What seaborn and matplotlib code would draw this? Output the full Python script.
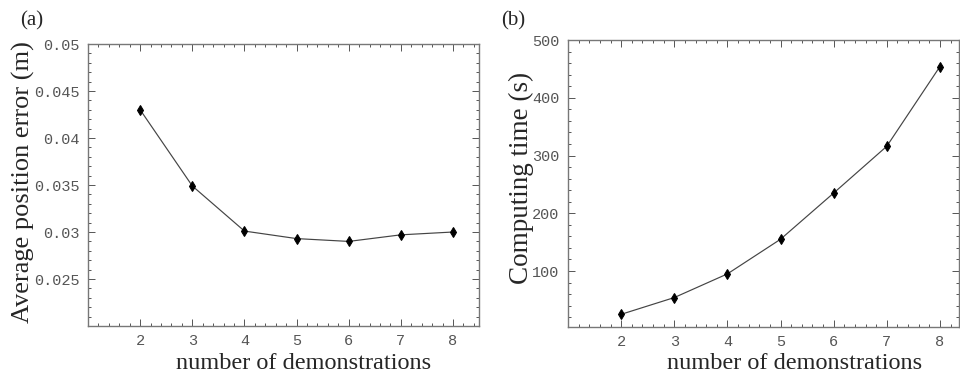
import matplotlib
matplotlib.use("Agg")
import matplotlib.pyplot as plt
import seaborn as sns
import pandas as pd
from matplotlib.ticker import MultipleLocator, FixedLocator

sns.set_style("ticks")
plt.rcParams['font.family'] = ['Liberation Serif', 'DejaVu Serif']

demos = [2, 3, 4, 5, 6, 7, 8]
pos_error = [0.0430, 0.0349, 0.0301, 0.0293, 0.0290, 0.0297, 0.0300]
comp_time = [25, 54, 95, 155, 235, 316, 454]

err_ticks = [0.025, 0.03, 0.035, 0.04, 0.045, 0.05]
err_labels = ["0.025", "0.03", "0.035", "0.04", "0.045", "0.05"]
time_ticks = [100, 200, 300, 400, 500]
time_labels = ["100", "200", "300", "400", "500"]
x_ticks = demos
x_labels = [str(d) for d in demos]

df_a = pd.DataFrame({"n": demos, "v": pos_error})
df_b = pd.DataFrame({"n": demos, "v": comp_time})

fig = plt.figure(figsize=(9.6, 3.84), dpi=100)
ax1 = fig.add_axes([0.0917, 0.151, 0.4073, 0.7344])
ax2 = fig.add_axes([0.5917, 0.1484, 0.4073, 0.7474])

tick_font = dict(family='Liberation Mono', size=11, color='#555555')

def style(ax, ylim, yticks, ylabels, ylabel, ysize, ylab_xy, xlab_xy):
    ax.set_xlim(1, 8.5)
    ax.set_ylim(*ylim)
    ax.xaxis.set_major_locator(FixedLocator(x_ticks))
    ax.xaxis.set_minor_locator(MultipleLocator(0.2))
    ax.yaxis.set_major_locator(FixedLocator(yticks))
    ax.set_xticklabels(x_labels, fontdict=tick_font)
    ax.set_yticklabels(ylabels, fontdict=tick_font)
    ax.tick_params(which='both', direction='in', top=True, right=True,
                   color='#555555', width=0.7)
    ax.tick_params(which='major', length=5, pad=6)
    ax.tick_params(which='minor', length=2.5)
    for s in ax.spines.values():
        s.set_color('#777777')
        s.set_linewidth(1.0)
    ax.set_xlabel("number of demonstrations", fontsize=17.5, va='top')
    ax.set_ylabel(ylabel, fontsize=ysize, va='center')
    ax.xaxis.set_label_coords(*xlab_xy)
    ax.yaxis.set_label_coords(*ylab_xy)

line_kw = dict(color='#444444', lw=0.85, marker='d', markersize=5.5,
               markerfacecolor='black', markeredgecolor='black')

sns.lineplot(data=df_a, x="n", y="v", ax=ax1, **line_kw)
style(ax1, (0.02, 0.05), err_ticks, err_labels, "Average position error (m)",
      19, (-0.164, 0.51), (0.55, -0.096))
ax1.yaxis.set_minor_locator(MultipleLocator(0.001))

sns.lineplot(data=df_b, x="n", y="v", ax=ax2, **line_kw)
style(ax2, (3, 500), time_ticks, time_labels, "Computing time (s)",
      19.5, (-0.12, 0.519), (0.58, -0.09))
ax2.set_xlim(1, 8.36)
ax2.yaxis.set_minor_locator(MultipleLocator(20))

fig.text(0.021, 0.972, "(a)", fontsize=15, va='top', ha='left')
fig.text(0.522, 0.972, "(b)", fontsize=15, va='top', ha='left')

fig.savefig("out.png", dpi=100)
